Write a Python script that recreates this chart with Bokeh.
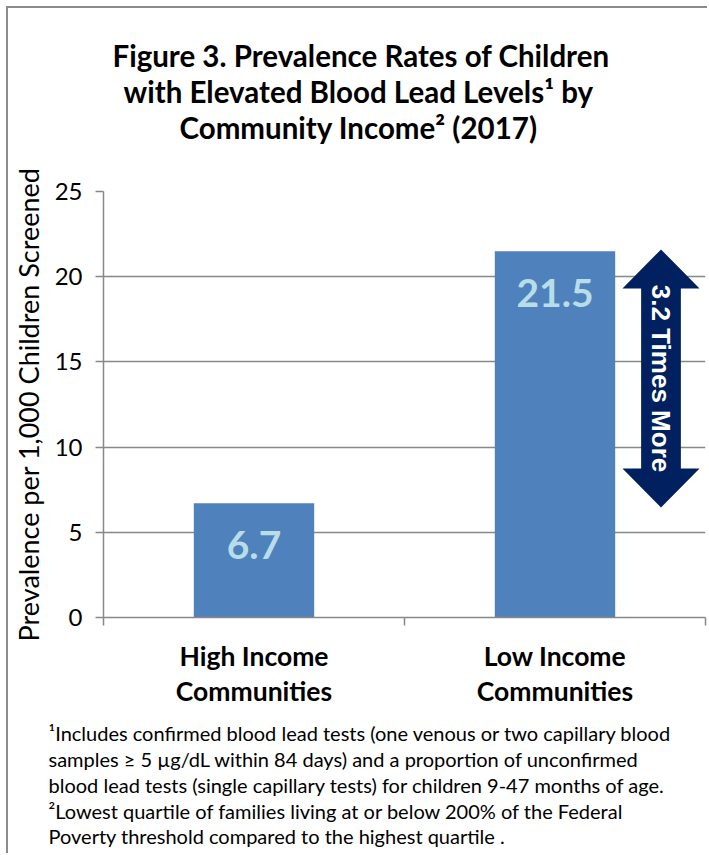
from bokeh.plotting import figure
from bokeh.models import Range1d, FixedTicker, Title, ColumnDataSource
from bokeh.core.properties import value
from bokeh.embed import file_html
from bokeh.resources import INLINE

# ---- data ----
categories = ["High Income\nCommunities", "Low Income\nCommunities"]
prevalence = [6.7, 21.5]
value_labels = ["6.7", "21.5"]
y_ticks = [0, 5, 10, 15, 20, 25]
ratio_text = "3.2 Times More"
title_lines = [
    "Figure 3. Prevalence Rates of Children",
    "with Elevated Blood Lead Levels\u00b9 by",
    "Community Income\u00b2 (2017)",
]
footnote_lines = [
    "\u00b9Includes confirmed blood lead tests (one venous or two capillary blood",
    "samples \u2265 5 \u00b5g/dL within 84 days) and a proportion of unconfirmed",
    "blood lead tests (single capillary tests) for children 9-47 months of age.",
    "\u00b2Lowest quartile of families living at or below 200% of the Federal",
    "Poverty threshold compared to the highest quartile .",
]
y_axis_title = "Prevalence per 1,000 Children Screened"

FONT = "Lato"
BAR = "#4F81BD"
GRID = "#888888"

W, H = 701, 847
LEFT, TOP, RIGHT = 95, 183, 4
FRAME_H = 426
FRAME_W = W - LEFT - RIGHT
BOTTOM = H - TOP - FRAME_H

p = figure(width=W, height=H, output_backend="svg", toolbar_location=None,
           x_range=Range1d(0, 2), y_range=Range1d(0, 25),
           min_border_left=LEFT, min_border_top=TOP, min_border_right=RIGHT,
           min_border_bottom=BOTTOM)
p.outline_line_color = None
p.background_fill_color = "white"
p.styles = {"margin-left": "8px", "margin-top": "8px",
            "box-shadow": "-2px -2px 0 0 #8c8c8c"}

px_per_unit = FRAME_H / 25.0
def xpx(ref_x):
    return (ref_x - 103) / (FRAME_W / 2.0)

xs = [0.5 + i for i in range(len(categories))]
src = ColumnDataSource(dict(x=xs, top=prevalence, lab=value_labels))
p.vbar(x="x", top="top", width=0.4, bottom=0, source=src,
       fill_color=BAR, line_color=None)
p.text(x="x", y="top", text="lab", source=src, y_offset=42,
       text_align="center", text_baseline="middle",
       text_font=value(FONT), text_font_style="bold",
       text_font_size="39px", text_color="#B7DEE8")

# axes
p.yaxis.ticker = FixedTicker(ticks=y_ticks)
p.yaxis.major_label_text_font = FONT
p.yaxis.major_label_text_font_size = "24px"
p.yaxis.major_label_text_color = "black"
p.yaxis.major_tick_out = 8
p.yaxis.major_tick_in = 0
p.yaxis.major_tick_line_color = GRID
p.yaxis.major_tick_line_width = 1.5
p.yaxis.axis_line_color = GRID
p.yaxis.axis_line_width = 1.5
p.yaxis.minor_tick_line_color = None
p.yaxis.major_label_standoff = 13
p.yaxis.axis_label = y_axis_title
p.yaxis.axis_label_text_font = FONT
p.yaxis.axis_label_text_font_size = "27px"
p.yaxis.axis_label_text_font_style = "normal"
p.yaxis.axis_label_text_color = "black"
p.yaxis.axis_label_standoff = 7

p.xaxis.ticker = FixedTicker(ticks=xs, minor_ticks=[0, 1, 2])
p.xaxis.major_label_overrides = {x: c for x, c in zip(xs, categories)}
p.xaxis.major_tick_line_color = None
p.xaxis.minor_tick_out = 8
p.xaxis.minor_tick_in = 0
p.xaxis.minor_tick_line_color = GRID
p.xaxis.minor_tick_line_width = 1.5
p.xaxis.axis_line_color = GRID
p.xaxis.axis_line_width = 1.5
p.xaxis.major_label_text_font = FONT
p.xaxis.major_label_text_font_style = "bold"
p.xaxis.major_label_text_font_size = "26.5px"
p.xaxis.major_label_text_color = "black"
p.xaxis.major_label_text_line_height = 1.1
p.xaxis.major_label_standoff = 14

p.xgrid.grid_line_color = None
p.ygrid.ticker = FixedTicker(ticks=y_ticks)
p.ygrid.grid_line_color = GRID
p.ygrid.grid_line_width = 1.5

# double arrow showing the ratio
ax = xpx(660.5)
head_hw = 0.128
shaft_hw = 0.066
top_tip = prevalence[1] + 0.1
bot_tip = prevalence[0] - 0.25
head_len = 39 / px_per_unit
arrow_x = [ax, ax + head_hw, ax + shaft_hw, ax + shaft_hw, ax + head_hw, ax,
           ax - head_hw, ax - shaft_hw, ax - shaft_hw, ax - head_hw]
arrow_y = [top_tip, top_tip - head_len, top_tip - head_len, bot_tip + head_len,
           bot_tip + head_len, bot_tip, bot_tip + head_len, bot_tip + head_len,
           top_tip - head_len, top_tip - head_len]
p.patch(arrow_x, arrow_y, fill_color="#002060", line_color=None)
p.text(x=[ax], y=[(top_tip + bot_tip) / 2], text=[ratio_text], angle=-1.5707963,
       text_align="center", text_baseline="middle",
       text_font=value("Liberation Sans"), text_font_style="bold",
       text_font_size="26px", text_color="white")

# spacer between the plot area and the title block
p.add_layout(Title(text=" ", text_font_size="10px", standoff=34), "above")
# title (stacked above; first added is nearest the plot)
title_left = [112, 123, 179]
for line, lx in reversed(list(zip(title_lines, title_left))):
    p.add_layout(Title(text=line, align="left", offset=lx - 103, standoff=-1,
                       text_font=FONT, text_font_style="bold",
                       text_font_size="29.5px", text_color="black"), "above")

# spacer between the category labels and the footnotes
p.add_layout(Title(text=" ", text_font_size="1px", standoff=6), "below")
# footnotes
p.add_layout(Title(text="\n".join(footnote_lines), align="left", offset=48 - 103,
                   standoff=0, text_font=FONT, text_font_style="normal",
                   text_font_size="20px", text_line_height=1.08,
                   text_color="black"), "below")

open("out.html", "w").write(file_html(p, INLINE))
